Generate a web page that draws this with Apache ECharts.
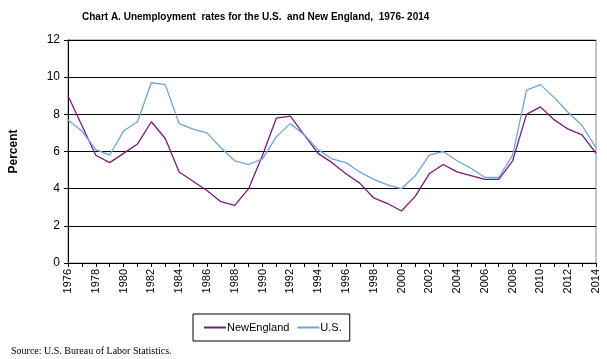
<!DOCTYPE html>
<html><head><meta charset="utf-8">
<script src="https://cdn.jsdelivr.net/npm/echarts@6/dist/echarts.min.js"></script>
<style>html,body{margin:0;padding:0;background:#fff}#c{width:607px;height:359px}</style>
</head><body><div id="c"></div>
<script>
var years = [];
for (var y = 1976; y <= 2014; y++) years.push(String(y));
var newEngland = [9.0,7.4,5.8,5.4,5.9,6.4,7.6,6.7,4.9,4.4,3.9,3.3,3.1,4.0,5.8,7.8,7.9,6.9,5.9,5.4,4.8,4.3,3.5,3.2,2.8,3.6,4.8,5.3,4.9,4.7,4.5,4.5,5.5,8.0,8.4,7.7,7.2,6.9,5.9];
var us = [7.7,7.1,6.1,5.8,7.1,7.6,9.7,9.6,7.5,7.2,7.0,6.2,5.5,5.3,5.6,6.8,7.5,6.9,6.1,5.6,5.4,4.9,4.5,4.2,4.0,4.7,5.8,6.0,5.5,5.1,4.6,4.6,5.8,9.3,9.6,8.9,8.1,7.4,6.2];
var yTicks = [0,2,4,6,8,10,12];

var chart = echarts.init(document.getElementById('c'));
chart.setOption({
  animation: false,
  title: {
    text: 'Chart A. Unemployment  rates for the U.S.  and New England,  1976- 2014',
    left: 77, top: 7,
    textStyle: {fontFamily: 'Liberation Sans, Arial', fontWeight: 'bold', fontSize: 10, color: '#000'}
  },
  grid: {left: 45, top: 40, width: 551, height: 223, show: true, borderColor: '#888', borderWidth: 1},
  legend: {
    left: 193, top: 314, orient: 'horizontal',
    itemWidth: 22, itemHeight: 2, itemGap: 8,
    padding: [8, 8, 8, 11],
    borderColor: '#000', borderWidth: 1,
    icon: 'rect',
    textStyle: {fontFamily: 'Liberation Sans, Arial', fontSize: 11, color: '#000', padding: [0,0,0,-4]},
    data: ['NewEngland', 'U.S.']
  },
  graphic: [{
    type: 'text', left: 11, top: 346,
    style: {text: 'Source: U.S. Bureau of Labor Statistics.', font: '10px "Liberation Serif", "Times New Roman", serif', fill: '#000'}
  }],
  xAxis: {
    type: 'category', data: years, boundaryGap: false,
    axisLine: {lineStyle: {color: '#000', width: 1}},
    axisTick: {show: true, interval: 0, length: 4, lineStyle: {color: '#000'}},
    axisLabel: {interval: 1, rotate: 90, fontFamily: 'Liberation Sans, Arial', fontSize: 11, color: '#000', margin: 6},
    splitLine: {show: false}
  },
  yAxis: {
    type: 'value', min: 0, max: 12, interval: 2,
    name: 'Percent', nameLocation: 'middle', nameGap: 22, nameRotate: 90,
    nameTextStyle: {fontFamily: 'Liberation Sans, Arial', fontWeight: 'bold', fontSize: 12, color: '#000', padding: [0,0,26,0]},
    axisLine: {show: true, lineStyle: {color: '#000', width: 1}},
    axisTick: {show: true, length: 4, lineStyle: {color: '#000'}},
    axisLabel: {fontFamily: 'Liberation Sans, Arial', fontSize: 12, color: '#000', margin: 8},
    splitLine: {show: true, lineStyle: {color: '#000', width: 1}}
  },
  series: [
    {name: 'NewEngland', type: 'line', data: newEngland, symbol: 'none', lineStyle: {color: '#7a1a7a', width: 1.3}, itemStyle: {color: '#7a1a7a'}},
    {name: 'U.S.', type: 'line', data: us, symbol: 'none', lineStyle: {color: '#6fa3dc', width: 1.3}, itemStyle: {color: '#6fa3dc'}}
  ]
});
</script></body></html>
